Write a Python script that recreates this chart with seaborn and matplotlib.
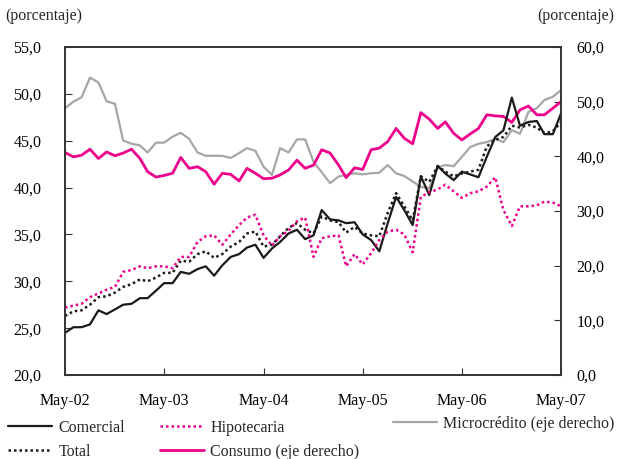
import pandas as pd
import matplotlib
matplotlib.use("Agg")
import matplotlib.pyplot as plt
import matplotlib.dates as mdates
import seaborn as sns

# Monthly series, May-02 .. May-07 (61 points)
comercial = [24.5, 25.1, 25.1, 25.4, 26.9, 26.5, 27.0, 27.5, 27.6, 28.2, 28.2, 29.0, 29.8,
             29.8, 31.0, 30.8, 31.3, 31.6, 30.6, 31.7, 32.6, 32.9, 33.6, 33.9, 32.5, 33.5,
             34.2, 35.1, 35.5, 34.5, 34.9, 37.6, 36.6, 36.5, 36.2, 36.3, 35.0, 34.4, 33.2,
             36.2, 39.0, 37.6, 36.0, 41.2, 39.2, 42.3, 41.5, 40.8, 41.7, 41.4, 41.1, 43.3,
             45.4, 46.1, 49.6, 46.6, 47.0, 47.1, 45.7, 45.7, 47.9]
total = [26.3, 26.8, 26.9, 27.5, 28.3, 28.4, 28.8, 29.4, 29.7, 30.2, 30.0, 30.4, 30.9,
         30.9, 32.2, 32.1, 32.9, 33.2, 32.5, 32.9, 33.7, 34.2, 35.1, 35.3, 33.7, 33.9,
         34.8, 35.7, 36.2, 35.5, 35.1, 36.9, 36.5, 36.3, 35.2, 35.8, 35.1, 34.9, 34.8,
         37.3, 39.4, 38.0, 36.5, 41.2, 40.6, 42.3, 41.7, 41.2, 41.5, 41.7, 41.9, 44.4,
         45.1, 45.4, 46.6, 46.4, 46.7, 46.4, 45.8, 46.0, 47.0]
hipotecaria = [27.2, 27.4, 27.6, 28.3, 28.7, 29.1, 29.4, 31.0, 31.2, 31.6, 31.4, 31.6, 31.6,
               31.4, 32.6, 32.6, 34.2, 34.8, 34.9, 33.9, 35.0, 36.0, 36.8, 37.1, 34.9, 33.8,
               34.8, 35.4, 36.4, 36.8, 32.6, 34.6, 34.8, 34.9, 31.6, 32.9, 31.8, 33.0, 34.4,
               35.3, 35.5, 35.0, 33.1, 39.0, 39.5, 39.8, 40.3, 39.6, 38.9, 39.4, 39.6, 40.1,
               41.1, 37.6, 35.9, 38.0, 38.0, 38.1, 38.5, 38.4, 38.0]
# right axis
microcredito = [48.8, 50.0, 50.8, 54.4, 53.5, 50.1, 49.6, 42.9, 42.3, 42.0, 40.7, 42.5, 42.5,
                43.6, 44.3, 43.2, 40.7, 40.1, 40.1, 40.1, 39.7, 40.6, 41.5, 41.0, 38.1, 36.6,
                41.5, 40.7, 43.1, 43.1, 39.0, 37.1, 35.1, 36.3, 36.6, 36.9, 36.7, 36.9, 37.0,
                38.4, 36.9, 36.4, 35.4, 34.4, 34.2, 38.0, 38.4, 38.2, 39.9, 41.7, 42.3, 42.6,
                43.2, 42.6, 44.8, 44.1, 48.1, 48.8, 50.3, 50.9, 52.1]
consumo = [40.7, 39.9, 40.2, 41.3, 39.6, 40.8, 40.1, 40.6, 41.3, 39.6, 37.2, 36.2, 36.5,
           36.9, 39.8, 37.8, 38.1, 37.2, 34.9, 36.9, 36.7, 35.5, 37.8, 36.9, 35.9, 36.0,
           36.6, 37.5, 39.3, 37.8, 38.4, 41.2, 40.6, 38.4, 36.1, 37.9, 37.6, 41.2, 41.5,
           42.7, 45.1, 43.3, 42.3, 48.0, 46.8, 45.1, 46.3, 44.2, 43.0, 44.1, 45.1, 47.6,
           47.4, 47.3, 46.2, 48.5, 49.2, 47.6, 47.6, 48.8, 50.0]

fechas = pd.date_range("2002-05-01", periods=len(comercial), freq="MS")
df = pd.DataFrame({"fecha": fechas, "comercial": comercial, "total": total,
                   "hipotecaria": hipotecaria, "microcredito": microcredito,
                   "consumo": consumo})

sns.set_style("ticks")
plt.rcParams["font.family"] = ["Liberation Serif", "DejaVu Serif"]
plt.rcParams["font.size"] = 11.5

MAGENTA = "#EC008C"
GRIS = "#A6A6A6"
NEGRO = "#1A1A1A"

fig = plt.figure(figsize=(6.18, 4.59), dpi=100)
ax = fig.add_axes([65 / 618, 1 - 375 / 459, (561 - 65) / 618, (375 - 47) / 459])
ax2 = ax.twinx()

# right axis series first so left-axis lines sit on top
sns.lineplot(data=df, x="fecha", y="microcredito", ax=ax2, color=GRIS, lw=1.6)
sns.lineplot(data=df, x="fecha", y="consumo", ax=ax2, color=MAGENTA, lw=2.0)
ax.set_zorder(ax2.get_zorder() + 1)
ax.patch.set_visible(False)

sns.lineplot(data=df, x="fecha", y="comercial", ax=ax, color=NEGRO, lw=1.6)
sns.lineplot(data=df, x="fecha", y="total", ax=ax, color=NEGRO, lw=1.8, ls=(0, (1, 1.2)))
sns.lineplot(data=df, x="fecha", y="hipotecaria", ax=ax, color=MAGENTA, lw=1.8, ls=(0, (1, 1.2)))

ax.set_ylim(20, 55)
ax.set_yticks([20, 25, 30, 35, 40, 45, 50, 55])
ax.set_yticklabels([f"{v:.1f}".replace(".", ",") for v in ax.get_yticks()])
ax2.set_ylim(0, 60)
ax2.set_yticks([0, 10, 20, 30, 40, 50, 60])
ax2.set_yticklabels([f"{v:.1f}".replace(".", ",") for v in ax2.get_yticks()])

ax.set_xlim(fechas[0], fechas[-1])
ax.xaxis.set_major_locator(mdates.MonthLocator(bymonth=5))
ax.xaxis.set_major_formatter(mdates.DateFormatter("%b-%y"))

for a in (ax, ax2):
    a.set_xlabel("")
    a.set_ylabel("")
    for s in a.spines.values():
        s.set_visible(True)
        s.set_color("#333333")
        s.set_linewidth(1.2)
ax.tick_params(axis="y", direction="in", length=5, pad=17, colors="#333333", labelcolor="black")
ax.tick_params(axis="x", direction="in", length=5, pad=13, colors="#333333", labelcolor="black")
ax2.tick_params(axis="y", direction="in", length=5, pad=11, colors="#333333", labelcolor="black")

fig.text(5 / 618, 1 - 16 / 459, "(porcentaje)", ha="left", va="center")
fig.text(614 / 618, 1 - 16 / 459, "(porcentaje)", ha="right", va="center")

h_com, = ax.plot([], [], color=NEGRO, lw=1.6)
h_tot, = ax.plot([], [], color=NEGRO, lw=1.8, ls=(0, (1, 1.2)))
h_hip, = ax.plot([], [], color=MAGENTA, lw=1.8, ls=(0, (1, 1.2)))
h_con, = ax.plot([], [], color=MAGENTA, lw=2.0)
h_mic, = ax.plot([], [], color=GRIS, lw=1.6)

leg_kw = dict(loc="upper left", frameon=False, borderpad=0, borderaxespad=0,
              handlelength=2.75, handletextpad=0.4, labelspacing=0.5)
fig.legend([h_com, h_tot], ["Comercial", "Total"],
           bbox_to_anchor=(8 / 618, 1 - 420 / 459), **leg_kw)
fig.legend([h_hip, h_con], ["Hipotecaria", "Consumo (eje derecho)"],
           bbox_to_anchor=(160 / 618, 1 - 420 / 459), **leg_kw)
fig.legend([h_mic], ["Microcrédito (eje derecho)"],
           bbox_to_anchor=(393 / 618, 1 - 416 / 459), **leg_kw)

fig.savefig("out.png", dpi=100)
